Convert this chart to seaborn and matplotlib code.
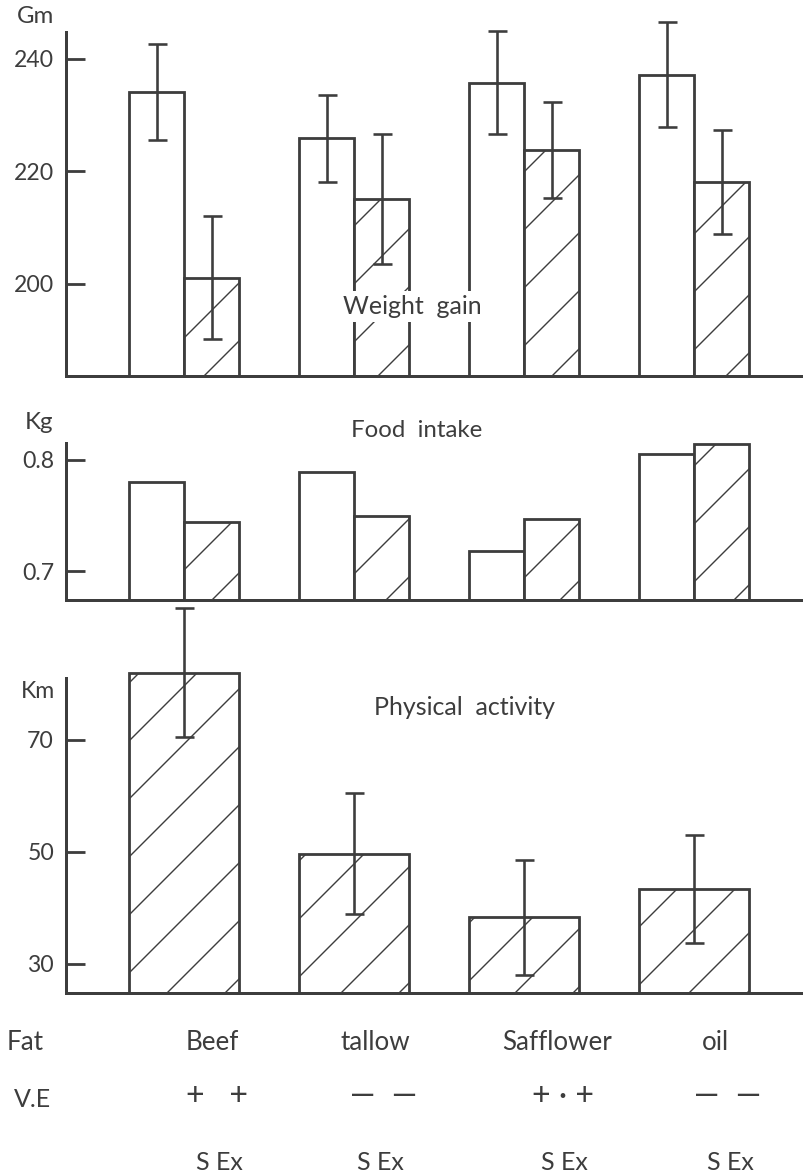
import numpy as np
import pandas as pd
import matplotlib
matplotlib.use("Agg")
import matplotlib.pyplot as plt
import seaborn as sns

# ---- data -----------------------------------------------------------------
# four diets: fat source (beef tallow / safflower oil) x vitamin E (+ / -)
diets = ["Beef tallow +E", "Beef tallow -E", "Safflower oil +E", "Safflower oil -E"]
conditions = ["S", "Ex"]  # sedentary, exercised

weight_s = [234.1, 225.9, 235.8, 237.2]
weight_s_err = [8.5, 7.7, 9.2, 9.3]
weight_ex = [201.1, 215.1, 223.8, 218.1]
weight_ex_err = [11.0, 11.6, 8.5, 9.2]

food_s = [0.780, 0.789, 0.718, 0.805]
food_ex = [0.744, 0.749, 0.747, 0.814]

activity_s = [np.nan, np.nan, np.nan, np.nan]
activity_ex = [82.0, 49.7, 38.3, 43.4]
activity_ex_err = [11.5, 10.8, 10.2, 9.6]

weight_ticks = [200, 220, 240]
food_ticks = [0.7, 0.8]
activity_ticks = [30, 50, 70]

fat_row = ["Fat", "Beef", "tallow", "Safflower", "oil"]
ve_row = ["+   +", "\u2014  \u2014", "+ \u00b7 +", "\u2014  \u2014"]
cond_row = "S Ex"

# ---- figure geometry (pixel based) ----------------------------------------
DPI = 348
W, H = 803, 1175
INK = "#3d3d3d"


def pt(px):
    return px * 72.0 / DPI


def fx(x):
    return x / W


def fy(y):
    return 1.0 - y / H


sns.set_theme(style="white")
plt.rcParams["font.family"] = ["Lato", "DejaVu Sans"]
plt.rcParams["hatch.linewidth"] = pt(1.4)
plt.rcParams["hatch.color"] = INK
plt.rcParams["text.color"] = INK

fig = plt.figure(figsize=(W / DPI, H / DPI), dpi=DPI)
fig.patch.set_facecolor("white")

AX_LEFT = 66
CENTER0, STEP = 184, 170  # px of first group centre, px per group
XLIM = ((AX_LEFT - CENTER0) / STEP, (W - CENTER0) / STEP)
GROUP_WIDTH = 110 / STEP


def add_panel(top_px, bottom_px):
    return fig.add_axes([fx(AX_LEFT), fy(bottom_px), (W - AX_LEFT) / W,
                         (bottom_px - top_px) / H])


def draw_panel(ax, s_vals, ex_vals, s_err, ex_err, ylim, ticks, labels,
               spine_top=None):
    df = pd.DataFrame({
        "diet": diets * 2,
        "cond": ["S"] * 4 + ["Ex"] * 4,
        "value": list(s_vals) + list(ex_vals),
    }).dropna()
    sns.barplot(data=df, x="diet", y="value", hue="cond", order=diets,
                hue_order=conditions, palette={"S": "white", "Ex": "white"},
                saturation=1, width=GROUP_WIDTH, gap=0, errorbar=None,
                legend=False, edgecolor=INK, linewidth=pt(2.8), ax=ax)
    errs = {"S": s_err, "Ex": ex_err}
    for bar in ax.patches:
        xc = bar.get_x() + bar.get_width() / 2
        i = int(round(xc))
        cond = "S" if xc < i else "Ex"
        bar.set_facecolor("white")
        bar.set_edgecolor(INK)
        bar.set_linewidth(pt(2.8))
        if cond == "Ex":
            bar.set_hatch("//")
        e = errs[cond]
        if e is not None and not np.isnan(e[i]):
            eb = ax.errorbar(xc, bar.get_height(), yerr=e[i], fmt="none",
                             ecolor=INK, elinewidth=pt(2.6), capsize=pt(9.5),
                             capthick=pt(2.6), zorder=4)
            for art in eb.get_children():
                art.set_clip_on(False)
    ax.set_xlim(*XLIM)
    ax.set_ylim(*ylim)
    ax.set_yticks(ticks)
    ax.set_yticklabels(labels)
    ax.set_xlabel("")
    ax.set_ylabel("")
    ax.tick_params(axis="x", bottom=False, labelbottom=False)
    ax.tick_params(axis="y", direction="in", length=pt(19), width=pt(2.8),
                   color=INK, labelcolor=INK, labelsize=pt(23), pad=pt(12),
                   left=True)
    ax.spines[["top", "right"]].set_visible(False)
    for side in ("left", "bottom"):
        ax.spines[side].set_color(INK)
        ax.spines[side].set_linewidth(pt(3))
    if spine_top is not None:
        ax.spines["left"].set_bounds(ylim[0], spine_top)
    ax.patch.set_alpha(0)


# Weight gain
ax1 = add_panel(32, 376)
draw_panel(ax1, weight_s, weight_ex, weight_s_err, weight_ex_err,
           (183.6, 244.8), weight_ticks, [str(t) for t in weight_ticks])

# Food intake
ax2 = add_panel(443, 600)
draw_panel(ax2, food_s, food_ex, None, None, (0.674, 0.815), food_ticks,
           [f"{t:.1f}" for t in food_ticks])

# Physical activity (exercised groups only)
ax3 = add_panel(667, 993)
draw_panel(ax3, activity_s, activity_ex, None, activity_ex_err, (24.8, 83.0),
           activity_ticks, [str(t) for t in activity_ticks], spine_top=81.1)

# ---- text -------------------------------------------------------------------
def ftext(x, y, s, size_px, ha="center", va="baseline", **kw):
    fig.text(fx(x), fy(y), s, fontsize=pt(size_px), ha=ha, va=va,
             color=INK, **kw)


ftext(35, 23, "Gm", 24)
ftext(39, 429, "Kg", 24)
ftext(38, 698, "Km", 23)

box = dict(facecolor="white", edgecolor="none", pad=pt(4))
ftext(412, 314, "Weight  gain", 25, bbox=box, zorder=10)
ftext(417, 437, "Food  intake", 24)
ftext(465, 715, "Physical  activity", 25)

row_x = [25, 212, 375, 557, 715]
for x, s in zip(row_x, fat_row):
    ftext(x, 1050, s, 26)
ftext(32, 1107, "V.E", 25)
ve_x = [217, 384, 563, 728]
for x, s in zip(ve_x, ve_row):
    ftext(x, 1105, s, 32)
for x in [219, 380, 564, 730]:
    ftext(x, 1170, cond_row, 25)

fig.savefig("out.png", dpi=DPI, facecolor="white")
